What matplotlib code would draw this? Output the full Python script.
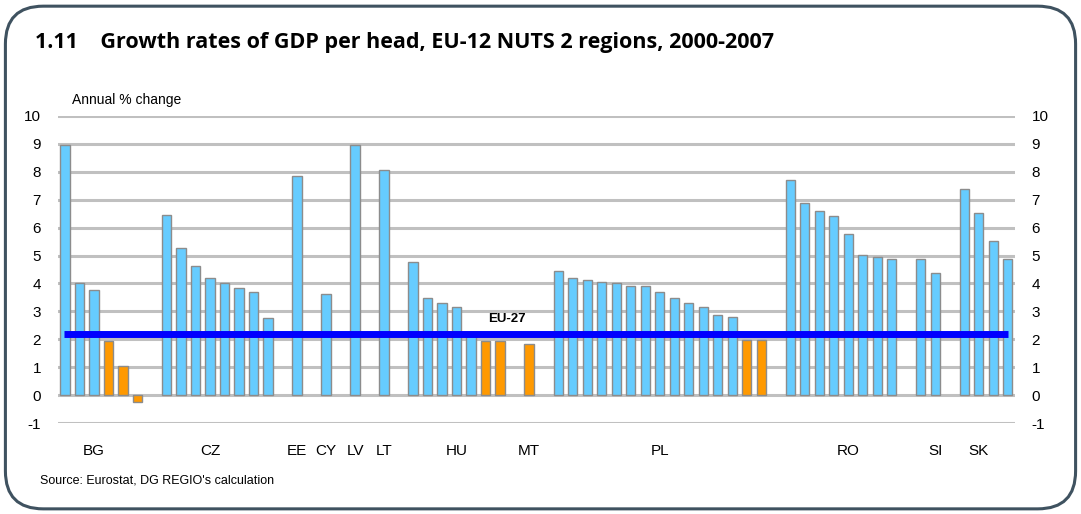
import matplotlib
matplotlib.use("Agg")
import matplotlib.pyplot as plt
import numpy as np
from matplotlib.patches import FancyBboxPatch

plt.rcParams["axes.unicode_minus"] = False

# values per country, one entry per NUTS 2 region, left to right
bg_vals = [8.95, 4.02, 3.76, 1.94, 1.05, -0.23]
cz_vals = [6.44, 5.27, 4.61, 4.20, 4.02, 3.83, 3.68, 2.78]
ee_vals = [7.83]
cy_vals = [3.61]
lv_vals = [8.94]
lt_vals = [8.05]
hu_vals = [4.76, 3.47, 3.29, 3.17, 2.15, 1.94, 1.94]
mt_vals = [1.82]
pl_vals = [4.46, 4.21, 4.12, 4.06, 4.02, 3.91, 3.91, 3.69, 3.47, 3.30, 3.15,
           2.88, 2.81, 1.99, 1.99]
ro_vals = [7.69, 6.88, 6.58, 6.40, 5.78, 5.01, 4.95, 4.86]
si_vals = [4.86, 4.39]
sk_vals = [7.37, 6.51, 5.52, 4.86]

groups = [bg_vals, cz_vals, ee_vals, cy_vals, lv_vals, lt_vals, hu_vals,
          mt_vals, pl_vals, ro_vals, si_vals, sk_vals]
countries = ["BG", "CZ", "EE", "CY", "LV", "LT", "HU", "MT", "PL", "RO", "SI", "SK"]
label_slots = [2, 10, 16, 18, 20, 22, 27, 32, 41, 54, 60, 63]
eu27 = 2.18

BLUE = "#66ccff"
ORANGE = "#ff9900"

xs, vals = [], []
slot = 0
for g in groups:
    for v in g:
        xs.append(slot)
        vals.append(v)
        slot += 1
    slot += 1  # gap between countries
n_slots = slot - 1
xs = np.array(xs)
vals = np.array(vals)
colors = [ORANGE if v < eu27 - 0.1 else BLUE for v in vals]

fig = plt.figure(figsize=(10.81, 5.14), dpi=100)
fig.patch.set_facecolor("white")

frame = FancyBboxPatch((0.005, 0.01), 0.99, 0.978, boxstyle="round,pad=0,rounding_size=0.035",
                       transform=fig.transFigure, facecolor="none", edgecolor="#3f5260",
                       linewidth=2.2, mutation_aspect=1081 / 514)
fig.patches.append(frame)

fig.text(0.032, 0.918, "1.11    Growth rates of GDP per head, EU-12 NUTS 2 regions, 2000-2007",
         fontsize=15.5, fontweight="bold", family="Open Sans", va="center", ha="left")

ax = fig.add_axes([0.0534, 0.1765, 0.8856, 0.5984])
ax.set_xlim(-0.5, n_slots - 0.5)
ax.set_ylim(-1, 10)
for y in range(-1, 11):
    ax.axhline(y, color="#c0c0c0", lw=2.2, zorder=0)

ax.bar(xs, vals, width=0.64, color=colors, edgecolor="#8c8c8c", linewidth=1.0, zorder=2)
ax.plot([-0.1, xs[-1]], [eu27, eu27], color="#0000ff", lw=5, zorder=3, solid_capstyle="butt")
ax.text(30.5, eu27 + 0.32, "EU-27", fontsize=9.5, fontweight="bold", family="Liberation Sans",
        ha="center", va="bottom")

for s in ax.spines.values():
    s.set_visible(False)
ax.set_yticks(range(-1, 11))
ax.tick_params(axis="y", length=0, pad=12, labelsize=11, labelright=True, right=False)
for lab in ax.get_yticklabels():
    lab.set_family("Liberation Sans")
ax.set_xticks(label_slots)
ax.set_xticklabels(countries, family="Liberation Sans", fontsize=11)
ax.tick_params(axis="x", length=0, pad=15)

fig.text(0.067, 0.797, "Annual % change", fontsize=10, family="Liberation Sans")
fig.text(0.037, 0.06, "Source: Eurostat, DG REGIO's calculation", fontsize=9,
         family="Liberation Sans")

fig.savefig("out.png", dpi=100)
